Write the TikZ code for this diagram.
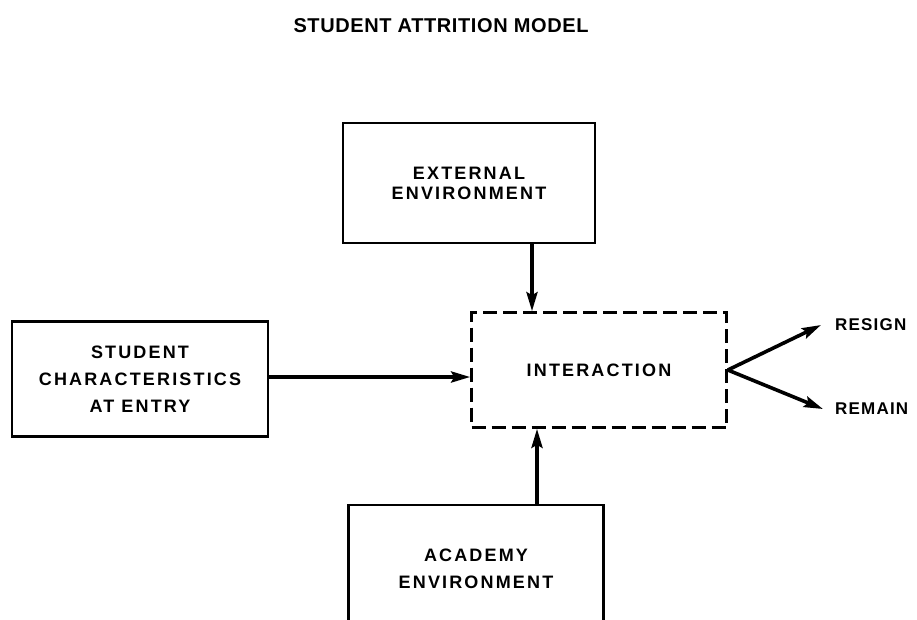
\documentclass[tikz,border=0pt]{standalone}
\usepackage{fontspec}
\setmainfont{Liberation Sans}
\newfontfamily\boxfont[LetterSpace=12]{Liberation Sans}
\newfontfamily\labelfont[LetterSpace=7]{Liberation Sans}
\newfontfamily\titlefont[LetterSpace=3]{Liberation Sans}
\usetikzlibrary{arrows.meta}

\tikzset{
    block/.style={draw, line width=2.6pt, align=center, inner sep=0pt,
        font=\boxfont\bfseries\fontsize{18}{27}\selectfont},
    dashblock/.style={block, dash pattern=on 14pt off 6pt},
    arr/.style={line width=3.6pt, -{Stealth[length=19pt,width=11pt,inset=3pt]}},
    outlabel/.style={anchor=west, inner sep=0pt, font=\labelfont\bfseries\fontsize{17}{20}\selectfont}
}

\begin{document}
\begin{tikzpicture}[x=1pt, y=-1pt]
    \useasboundingbox (0,0) rectangle (917,619);
    \clip (0,0) rectangle (917,619);

    % title
    \node[font=\titlefont\bfseries\fontsize{20}{22}\selectfont] (title) at (441,26) {STUDENT ATTRITION MODEL};

    % boxes
    \node[block, minimum width=252pt, minimum height=120pt, font=\boxfont\bfseries\fontsize{18}{20}\selectfont] (external) at (469,183) {EXTERNAL\\ENVIRONMENT};
    \node[block, minimum width=256pt, minimum height=115pt] (student) at (140,379) {STUDENT\\CHARACTERISTICS\\AT ENTRY};
    \node[dashblock, minimum width=255pt, minimum height=115pt] (interaction) at (599,370) {INTERACTION};
    \node[block, minimum width=255pt, minimum height=128pt] (academy) at (476,569) {ACADEMY\\ENVIRONMENT};

    % outcomes
    \node[outlabel] (resign) at (835,325) {RESIGN};
    \node[outlabel] (remain) at (835,409) {REMAIN};

    % connectors
    \draw[arr] ([xshift=63pt]external.south) -- ([xshift=63pt]external.south |- interaction.north);
    \draw[arr] ([xshift=61pt]academy.north) -- ([xshift=61pt]academy.north |- interaction.south);
    \draw[arr] (student.east |- 0,377) -- (interaction.west |- 0,377);
    \draw[arr] (interaction.east) -- ([xshift=-14pt]resign.west);
    \draw[arr] (interaction.east) -- ([xshift=-12pt]remain.west);
\end{tikzpicture}
\end{document}
